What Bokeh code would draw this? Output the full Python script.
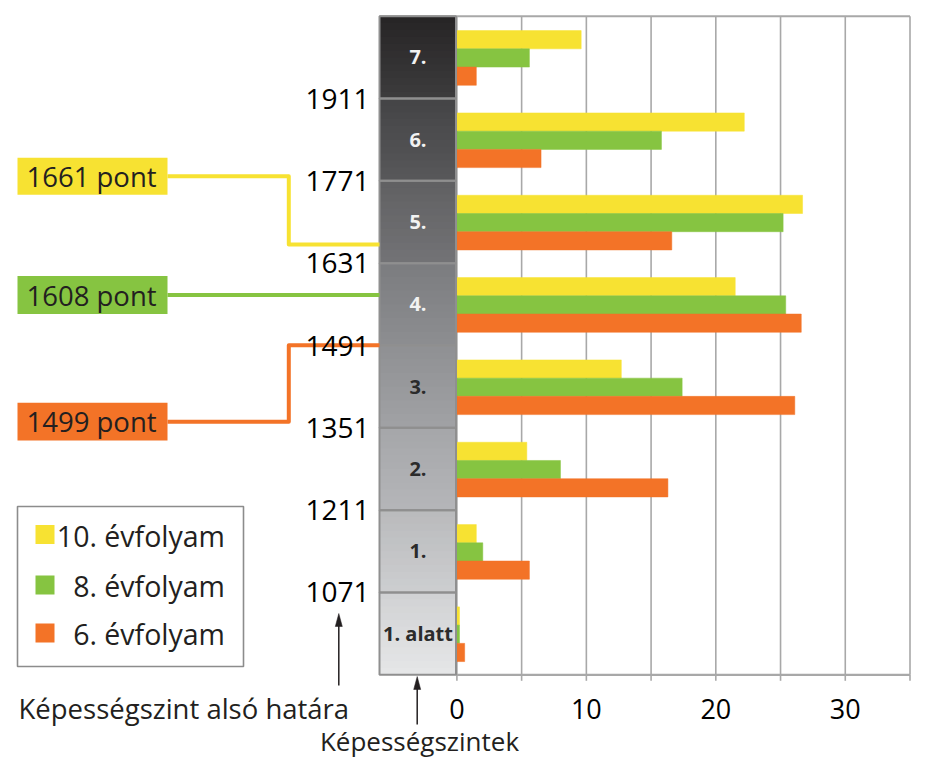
import numpy as np
from bokeh.plotting import figure
from bokeh.models import Range1d
from bokeh.embed import file_html
from bokeh.resources import INLINE
from bokeh.core.properties import value

# ---------------- data ----------------
levels = ["1. alatt", "1.", "2.", "3.", "4.", "5.", "6.", "7."]
lower_limits = [1071, 1211, 1351, 1491, 1631, 1771, 1911]
band_width = 140
grade10 = [0.2, 1.5, 5.4, 12.7, 21.5, 26.7, 22.2, 9.6]
grade8 = [0.2, 2.0, 8.0, 17.4, 25.4, 25.2, 15.8, 5.6]
grade6 = [0.6, 5.6, 16.3, 26.1, 26.6, 16.6, 6.5, 1.5]
series_labels = ["10. évfolyam", "8. évfolyam", "6. évfolyam"]
mean_points = [1661, 1608, 1499]
x_ticks = [0, 10, 20, 30]
grid_ticks = [0, 5, 10, 15, 20, 25, 30, 35]
x_max = 35
axis_title_left = "Képességszint alsó határa"
axis_title_col = "Képességszintek"

# ---------------- styles ----------------
YELLOW, GREEN, ORANGE = "#f7e232", "#86c441", "#f37327"
colors = [YELLOW, GREEN, ORANGE]
TXT = "#231f20"
FONT = value("Open Sans")
GRID = "#a8a8a8"
band_grad = [("#d0d1d3", "#e6e7e8"), ("#b9babc", "#cdced0"), ("#a5a6a9", "#b5b6b9"),
             ("#8f9093", "#a1a2a5"), ("#7b7c7f", "#8d8e91"), ("#606062", "#737376"),
             ("#444446", "#58585a"), ("#262425", "#3d3c3d")]
label_colors = ["#2b2b2b"] * 4 + ["#f2f2f2"] * 4

# ---------------- geometry (pixel layout -> data coords) ----------------
W, H = 911, 757
bottoms = [lower_limits[0] - band_width] + lower_limits
tops = [b + band_width for b in bottoms]
centers = [b + band_width / 2 for b in bottoms]
y_bot, y_top = bottoms[0], tops[-1]

X0 = 456.4                      # px of x=0
SX = (909.5 - X0) / x_max       # px per percent
SY = 0.58804                    # px per score point
Y0 = 15.7                       # px of y_top

def dx(px):
    return (px - X0) / SX

def dy(py):
    return y_top - (py - Y0) / SY

p = figure(width=W, height=H, x_range=Range1d(dx(0), dx(W)), y_range=Range1d(dy(H), dy(0)),
           output_backend="svg", toolbar_location=None, min_border=0,
           x_axis_location=None, y_axis_location=None, outline_line_color=None)
p.grid.visible = False
p.background_fill_color = "white"
p.border_fill_color = "white"

# gridlines, top border, axis line, ticks
n = len(grid_ticks)
p.segment(x0=grid_ticks, y0=[y_bot] * n, x1=grid_ticks, y1=[y_top] * n,
          line_color=GRID, line_width=1.6)
p.segment(x0=[dx(379)], y0=[y_top], x1=[x_max], y1=[y_top], line_color=GRID, line_width=2)
p.segment(x0=[0], y0=[y_bot], x1=[x_max], y1=[y_bot], line_color=GRID, line_width=2.2)
tick_len = 6 / SY
p.segment(x0=grid_ticks, y0=[y_bot] * n, x1=grid_ticks, y1=[y_bot - tick_len] * n,
          line_color=GRID, line_width=1.6)

# bars
bar_h = 31
for k, (vals, col) in enumerate(zip([grade10, grade8, grade6], colors)):
    off = (1 - k) * bar_h - 1
    p.hbar(y=[c + off for c in centers], height=bar_h, left=0, right=vals,
           fill_color=col, line_color=col, line_width=0.5)

# level column with gradient
col_l, col_r = dx(379), dx(455.5)
nstrip = 12
sl, sr, sb, st, sc = [], [], [], [], []

def hex2rgb(h):
    return np.array([int(h[i:i + 2], 16) for i in (1, 3, 5)], dtype=float)

for i, (b, t) in enumerate(zip(bottoms, tops)):
    c_top, c_bot = hex2rgb(band_grad[i][0]), hex2rgb(band_grad[i][1])
    for s in range(nstrip):
        f = (s + 0.5) / nstrip
        rgb = c_top + (c_bot - c_top) * f
        hexc = "#%02x%02x%02x" % tuple(int(round(v)) for v in rgb)
        sl.append(col_l); sr.append(col_r)
        st.append(t - band_width * s / nstrip)
        sb.append(t - band_width * (s + 1) / nstrip - (1.5 if s < nstrip - 1 else 0))
        sc.append(hexc)
p.quad(left=sl, right=sr, bottom=sb, top=st, fill_color=sc, line_color=None)
p.quad(left=[col_l] * len(bottoms), right=[col_r] * len(bottoms), bottom=bottoms, top=tops,
       fill_color=None, line_color="#8f8f8f", line_width=2)
p.text(x=[dx(417.5)] * len(levels), y=centers, text=levels, text_font=FONT, text_font_style="bold",
       text_font_size="20px", text_color=label_colors, text_align="center", text_baseline="middle")

# callout lines and boxes
line_py = [244, 294.5, 344.7]
box_py = [(157.3, 194.3), (275.5, 313.5), (402.3, 440)]
bx_l, bx_r, bend = dx(17), dx(167), dx(288.3)
for i, col in enumerate(colors):
    bmid = (box_py[i][0] + box_py[i][1]) / 2
    xs = [bx_r, bend, bend, col_l]
    ys = [dy(bmid), dy(bmid), dy(line_py[i]), dy(line_py[i])]
    p.line(xs, ys, line_color=col, line_width=4, line_join="round")
    p.quad(left=[bx_l], right=[bx_r], top=[dy(box_py[i][0])], bottom=[dy(box_py[i][1])],
           fill_color=col, line_color=None)
    p.text(x=[dx(26)], y=[dy(bmid)], text=[f"{mean_points[i]} pont"], text_font=FONT,
           text_font_size="27.5px", text_color=TXT, text_align="left", text_baseline="middle")

# lower-limit labels
p.text(x=[dx(369)] * len(lower_limits), y=lower_limits, text=[str(v) for v in lower_limits],
       text_font=FONT, text_font_size="28px", text_color="black", text_align="right",
       text_baseline="middle")

# x tick labels
p.text(x=x_ticks, y=[dy(708)] * len(x_ticks), text=[str(v) for v in x_ticks], text_font=FONT,
       text_font_size="27px", text_color="black", text_align="center", text_baseline="middle")

# legend
p.quad(left=[dx(17)], right=[dx(243)], top=[dy(506)], bottom=[dy(666)], fill_color="white",
       line_color="#8c8c8c", line_width=1.6)
leg_py = [534, 584.5, 632.5]
p.rect(x=[dx(44.5)] * 3, y=[dy(v) for v in leg_py], width=19 / SX, height=19 / SY,
       fill_color=colors, line_color=None)
p.text(x=[dx(224.5)] * 3, y=[dy(v + 1) for v in leg_py], text=series_labels, text_font=FONT,
       text_font_size="28.5px", text_color=TXT, text_align="right", text_baseline="middle")

# arrows
for ax, tip, tail in [(338.3, 613, 685), (416.7, 676, 724)]:
    p.segment(x0=[dx(ax)], y0=[dy(tail)], x1=[dx(ax)], y1=[dy(tip + 8)], line_color=TXT, line_width=1.5)
    p.patch(x=[dx(ax), dx(ax - 3.5), dx(ax + 3.5)], y=[dy(tip), dy(tip + 13), dy(tip + 13)],
            fill_color=TXT, line_color=TXT, line_width=0.5)

# bottom titles
p.text(x=[dx(18)], y=[dy(708)], text=[axis_title_left], text_font=FONT, text_font_size="27.5px",
       text_color=TXT, text_align="left", text_baseline="middle")
p.text(x=[dx(419)], y=[dy(740)], text=[axis_title_col], text_font=FONT, text_font_size="26px",
       text_color=TXT, text_align="center", text_baseline="middle")

open("out.html", "w").write(file_html(p, INLINE))
